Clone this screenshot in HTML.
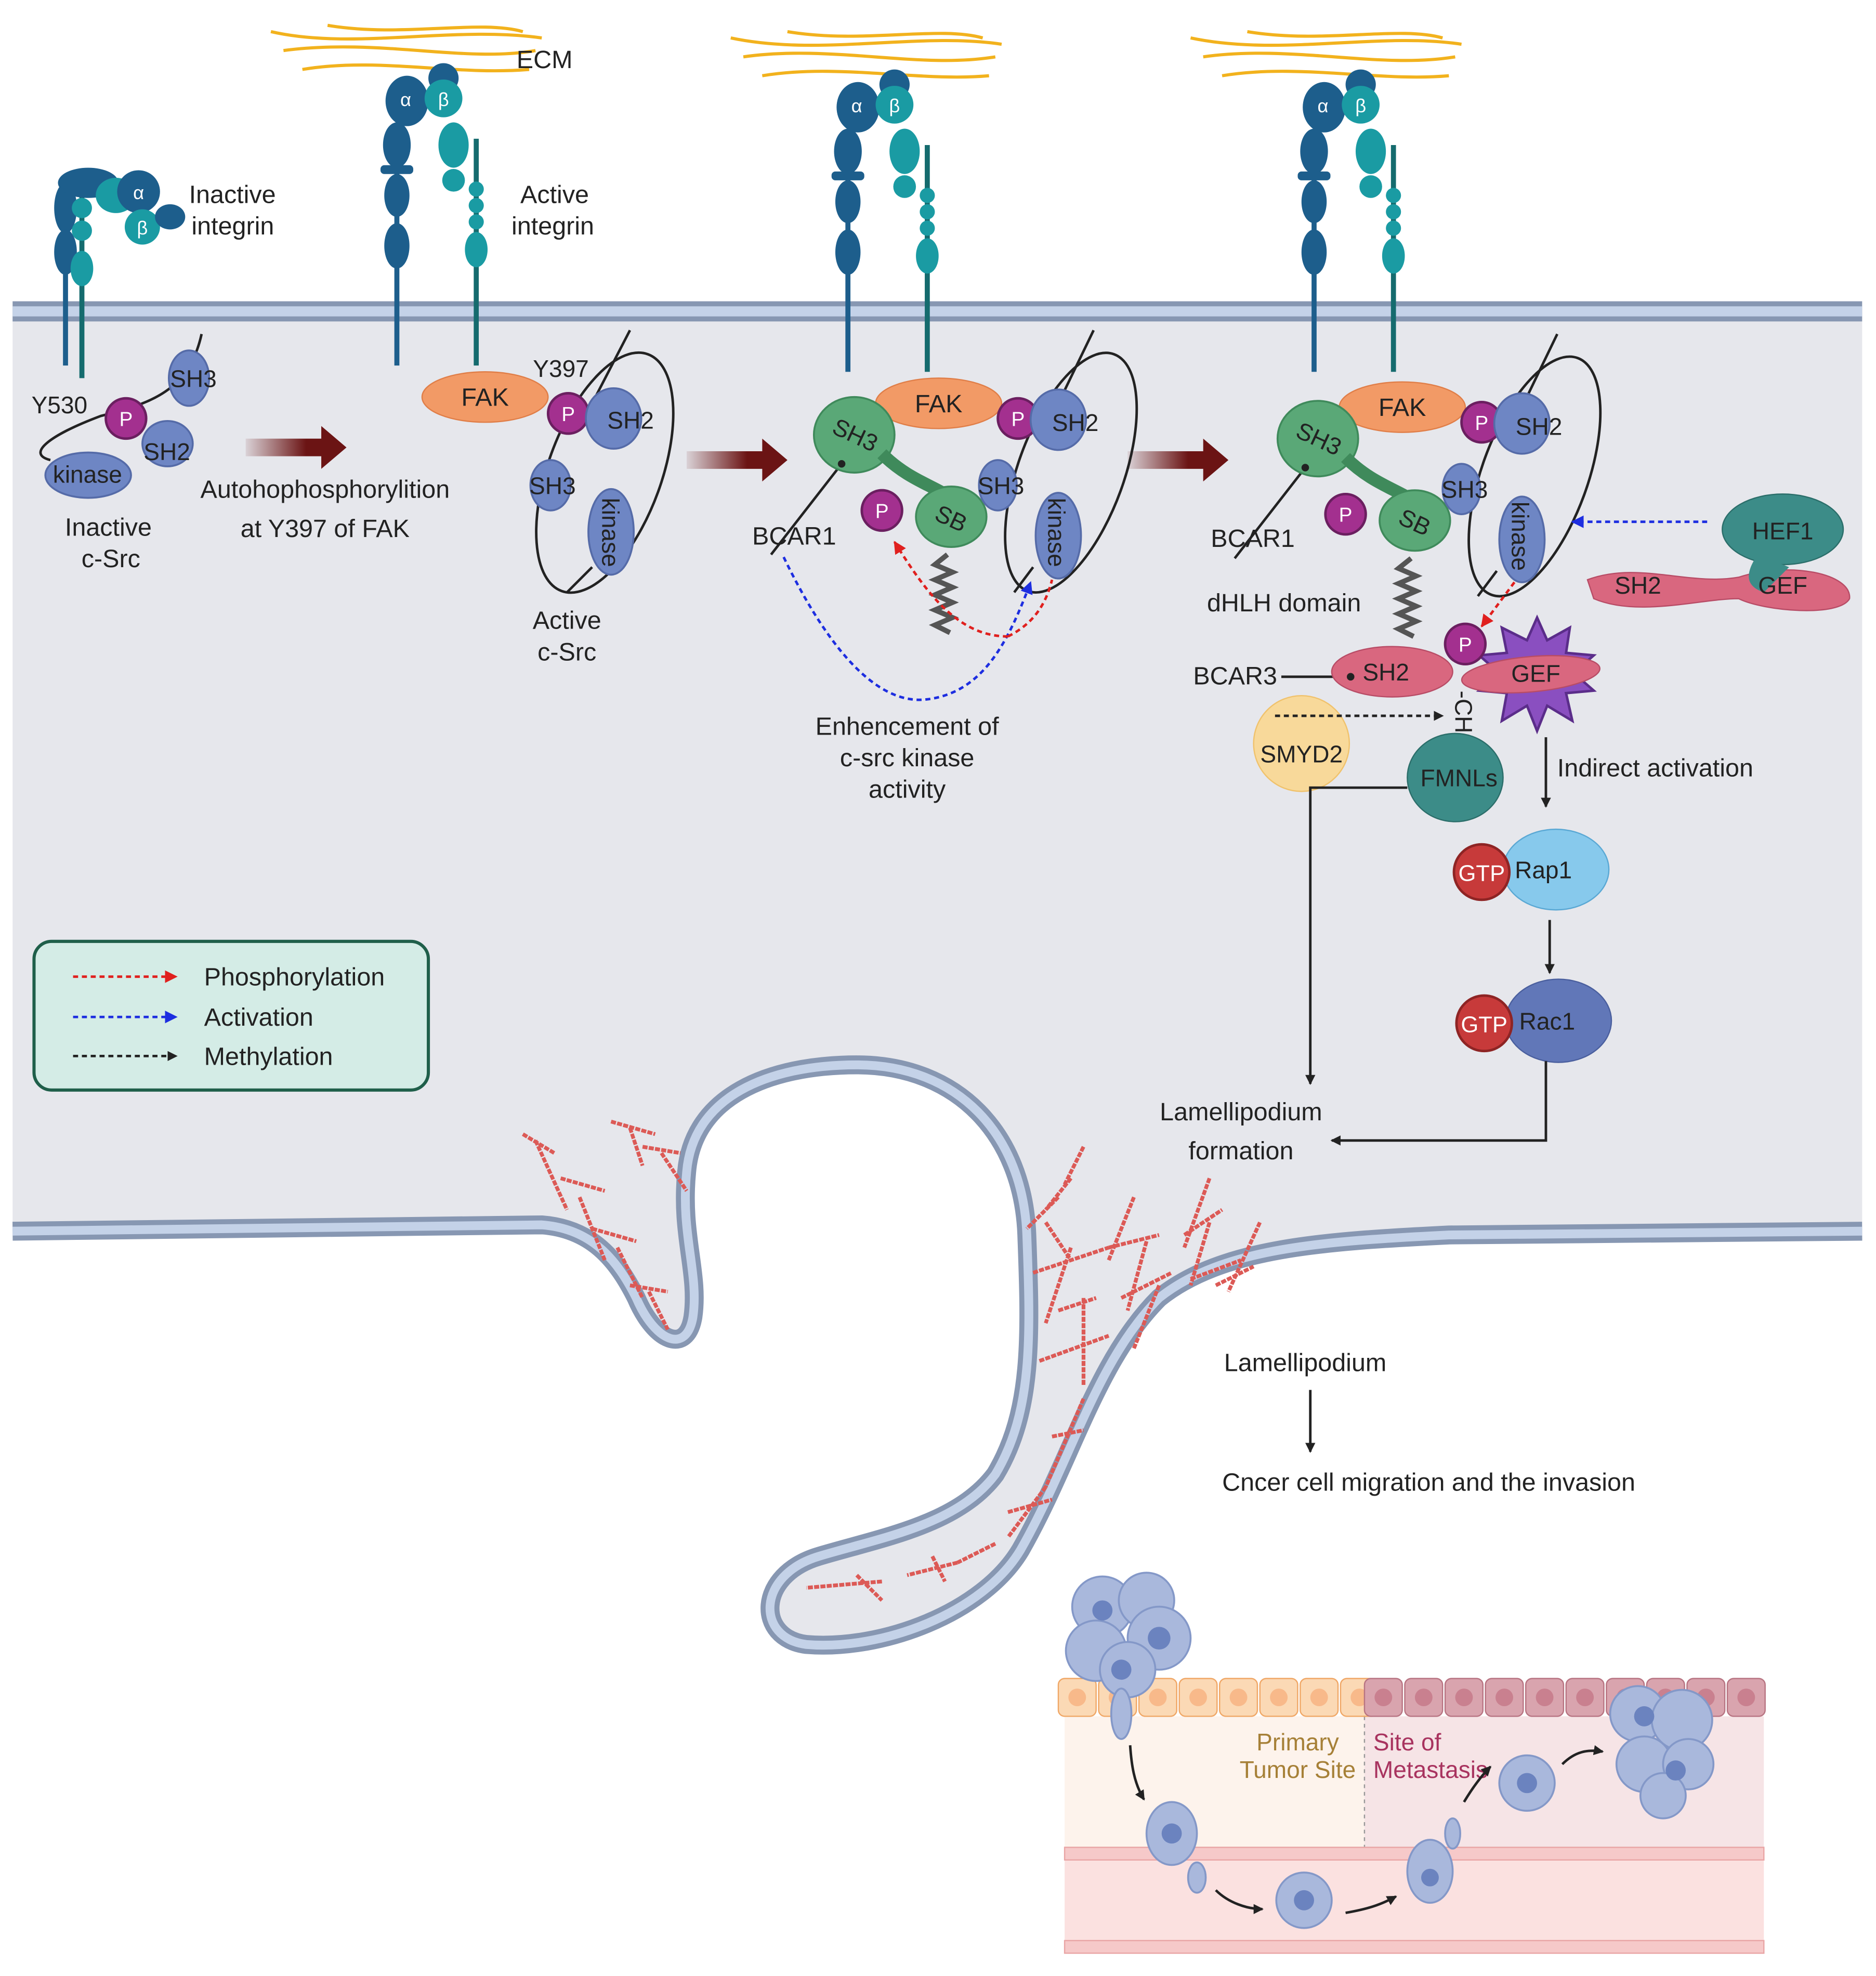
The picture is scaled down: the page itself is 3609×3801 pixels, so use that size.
<!DOCTYPE html>
<html><head><meta charset="utf-8"><style>
html,body{margin:0;padding:0;background:#fff}
svg{display:block}
text{font-family:"Liberation Sans",sans-serif;fill:#222}
</style></head><body>
<svg width="3609" height="3801" viewBox="0 0 1489 1568" xmlns="http://www.w3.org/2000/svg">
<defs>
<marker id="ak" markerWidth="8" markerHeight="8" refX="7" refY="4" orient="auto" markerUnits="userSpaceOnUse"><path d="M0,0 L8,4 L0,8z" fill="#222"/></marker>
<marker id="ar" markerWidth="10" markerHeight="10" refX="9" refY="5" orient="auto" markerUnits="userSpaceOnUse"><path d="M0,0 L10,5 L0,10z" fill="#e0201e"/></marker>
<marker id="ab" markerWidth="10" markerHeight="10" refX="9" refY="5" orient="auto" markerUnits="userSpaceOnUse"><path d="M0,0 L10,5 L0,10z" fill="#1d2ee0"/></marker>
<linearGradient id="gr" x1="0" x2="1"><stop offset="0" stop-color="#6b1414" stop-opacity="0.1"/><stop offset="0.6" stop-color="#6b1414"/></linearGradient>
</defs>

<!-- cell interior -->
<path d="M10,250 L1478,250 L1478,977 L1150,980 C1050,985 970,990 920,1030 C870,1080 850,1160 810,1230 C780,1280 700,1310 640,1305 C600,1300 600,1250 650,1235 C700,1220 760,1210 790,1170 C820,1120 818,1060 815,980 C812,900 760,845 680,845 C610,845 550,870 545,930 C540,980 555,1010 550,1045 C545,1075 520,1065 505,1030 C490,1000 470,975 430,972 L10,977 Z" fill="#e6e7ec"/>
<g fill="none" stroke-linejoin="round">
<path d="M10,977 L430,972 C470,975 490,1000 505,1030 C520,1065 545,1075 550,1045 C555,1010 540,980 545,930 C550,870 610,845 680,845 C760,845 812,900 815,980 C818,1060 820,1120 790,1170 C760,1210 700,1220 650,1235 C600,1250 600,1300 640,1305 C700,1310 780,1280 810,1230 C850,1160 870,1080 920,1030 C970,990 1050,985 1150,980 L1478,977" stroke="#8797b2" stroke-width="15"/>
<path d="M10,977 L430,972 C470,975 490,1000 505,1030 C520,1065 545,1075 550,1045 C555,1010 540,980 545,930 C550,870 610,845 680,845 C760,845 812,900 815,980 C818,1060 820,1120 790,1170 C760,1210 700,1220 650,1235 C600,1250 600,1300 640,1305 C700,1310 780,1280 810,1230 C850,1160 870,1080 920,1030 C970,990 1050,985 1150,980 L1478,977" stroke="#c4d2e8" stroke-width="7"/>
</g>
<!-- top membrane -->
<rect x="10" y="239" width="1468" height="16" fill="#8797b2"/>
<rect x="10" y="243" width="1468" height="8" fill="#c4d2e8"/>

<!-- actin -->
<g stroke="#dc5a56" stroke-width="3" fill="none" stroke-dasharray="4 1">
<path d="M415,900 L440,915 M425,905 L450,960 M445,935 L480,945 M460,950 L480,1000 M470,975 L505,985 M490,990 L510,1030 M500,1020 L530,1025 M515,1025 L530,1055 M485,890 L520,900 M500,895 L510,925 M510,910 L540,915 M525,915 L545,945"/>
<path d="M860,910 L845,940 M850,935 L830,960 M840,950 L815,975 M830,970 L850,1000 M820,1010 L880,990 M850,990 L830,1050 M840,1040 L870,1030 M860,1030 L860,1100 M825,1080 L880,1060 M900,950 L880,1000 M880,990 L920,980 M910,985 L895,1040 M890,1030 L930,1010 M920,1020 L900,1070 M960,935 L940,990 M940,980 L970,960 M960,970 L945,1020 M945,1015 L985,1000 M1000,970 L975,1025 M965,1020 L995,1005 M860,1110 L830,1180 M835,1140 L860,1135 M830,1180 L800,1220 M800,1200 L835,1190 M790,1225 L760,1240 M760,1240 L720,1250 M700,1255 L640,1260 M680,1250 L700,1270 M740,1235 L750,1255"/>
</g>

<!-- ECM fibers -->
<g fill="none" stroke="#f2b21d" stroke-width="2.5">
<path d="M215,25 C280,40 360,20 430,30 M225,40 C300,30 370,50 425,40 M240,55 C300,45 360,60 420,55 M260,20 C320,30 380,15 415,25"/>
<path d="M580,30 C650,45 730,25 795,35 M590,45 C660,35 730,55 790,45 M605,60 C665,50 730,65 785,60 M625,25 C685,35 745,20 780,30"/>
<path d="M945,30 C1015,45 1095,25 1160,35 M955,45 C1025,35 1095,55 1155,45 M970,60 C1030,50 1095,65 1150,60 M990,25 C1050,35 1110,20 1145,30"/>
</g>

<!-- Integrins -->
<g>
<!-- inactive -->
<line x1="52" y1="150" x2="52" y2="290" stroke="#1d5e8c" stroke-width="4"/>
<line x1="65" y1="150" x2="65" y2="300" stroke="#156b6e" stroke-width="4"/>
<ellipse cx="52" cy="165" rx="9" ry="20" fill="#1d5e8c"/><ellipse cx="52" cy="200" rx="9" ry="18" fill="#1d5e8c"/>
<ellipse cx="65" cy="165" rx="8" ry="8" fill="#1a9ba3"/><ellipse cx="65" cy="183" rx="8" ry="8" fill="#1a9ba3"/><ellipse cx="65" cy="213" rx="9" ry="14" fill="#1a9ba3"/>
<ellipse cx="70" cy="145" rx="24" ry="12" fill="#1d5e8c"/><ellipse cx="92" cy="155" rx="16" ry="14" fill="#1a9ba3"/>
<circle cx="110" cy="152" r="17" fill="#1d5e8c"/><text x="110" y="158" font-size="15" text-anchor="middle" style="fill:#fff">α</text>
<circle cx="113" cy="180" r="14" fill="#1a9ba3"/><text x="113" y="186" font-size="15" text-anchor="middle" style="fill:#fff">β</text>
<ellipse cx="135" cy="172" rx="12" ry="10" fill="#1d5e8c"/>
<text x="150" y="161" font-size="20">Inactive</text><text x="152" y="186" font-size="20">integrin</text>
</g>
<g id="ai">
<line x1="315" y1="110" x2="315" y2="290" stroke="#1d5e8c" stroke-width="4"/>
<line x1="378" y1="110" x2="378" y2="290" stroke="#156b6e" stroke-width="4"/>
<ellipse cx="315" cy="115" rx="11" ry="18" fill="#1d5e8c"/><rect x="302" y="131" width="26" height="7" rx="3" fill="#1d5e8c"/>
<ellipse cx="315" cy="155" rx="10" ry="17" fill="#1d5e8c"/><ellipse cx="315" cy="195" rx="10" ry="18" fill="#1d5e8c"/>
<ellipse cx="323" cy="80" rx="17" ry="20" fill="#1d5e8c"/><circle cx="352" cy="62" r="12" fill="#1d5e8c"/>
<circle cx="352" cy="78" r="15" fill="#1a9ba3"/><text x="352" y="84" font-size="15" text-anchor="middle" style="fill:#fff">β</text>
<text x="322" y="84" font-size="15" text-anchor="middle" style="fill:#fff">α</text>
<ellipse cx="360" cy="115" rx="12" ry="18" fill="#1a9ba3"/><ellipse cx="360" cy="143" rx="9" ry="9" fill="#1a9ba3"/>
<circle cx="378" cy="150" r="6" fill="#1a9ba3"/><circle cx="378" cy="163" r="6" fill="#1a9ba3"/><circle cx="378" cy="176" r="6" fill="#1a9ba3"/>
<ellipse cx="378" cy="198" rx="9" ry="14" fill="#1a9ba3"/>
</g>
<use href="#ai" transform="translate(358,5)"/>
<use href="#ai" transform="translate(728,5)"/>
<text x="410" y="54" font-size="20">ECM</text>
<text x="413" y="161" font-size="20">Active</text><text x="406" y="186" font-size="20">integrin</text>

<!-- Panel 1 c-Src -->
<g fill="none" stroke="#222" stroke-width="2">
<path d="M160,265 C150,310 120,320 80,330 C40,345 20,360 40,365"/>
</g>
<g fill="#6e86c4" stroke="#556ba8" stroke-width="1.5">
<ellipse cx="150" cy="300" rx="16" ry="22"/>
<ellipse cx="133" cy="352" rx="20" ry="18"/>
<ellipse cx="70" cy="377" rx="34" ry="18"/>
</g>
<circle cx="100" cy="332" r="16" fill="#a3308f" stroke="#6b1f60" stroke-width="2"/><text x="100" y="338" font-size="16" text-anchor="middle" style="fill:#fff">P</text>
<text x="25" y="328" font-size="19">Y530</text>
<text x="135" y="307" font-size="19">SH3</text>
<text x="114" y="365" font-size="19">SH2</text>
<text x="42" y="383" font-size="19">kinase</text>
<text x="86" y="425" font-size="20" text-anchor="middle">Inactive</text><text x="88" y="450" font-size="20" text-anchor="middle">c-Src</text>

<!-- arrows big -->
<g fill="url(#gr)">
<path d="M195,348 L255,348 L255,338 L275,355 L255,372 L255,362 L195,362Z"/>
<path d="M545,358 L605,358 L605,348 L625,365 L605,382 L605,372 L545,372Z"/>
<path d="M895,358 L955,358 L955,348 L975,365 L955,382 L955,372 L895,372Z"/>
</g>
<text x="258" y="395" font-size="20" text-anchor="middle">Autohophosphorylition</text>
<text x="258" y="426" font-size="20" text-anchor="middle">at Y397 of FAK</text>

<!-- Panel 2 -->
<g fill="none" stroke="#222" stroke-width="2">
<ellipse cx="480" cy="375" rx="45" ry="100" transform="rotate(20 480 375)"/>
<path d="M500,262 L470,320 M470,450 L450,470"/>
</g>
<ellipse cx="385" cy="315" rx="50" ry="20" fill="#f29a66" stroke="#e07e48"/>
<text x="385" y="322" font-size="20" text-anchor="middle">FAK</text>
<circle cx="451" cy="328" r="16" fill="#a3308f" stroke="#6b1f60" stroke-width="2"/><text x="451" y="334" font-size="16" text-anchor="middle" style="fill:#fff">P</text>
<text x="423" y="299" font-size="19">Y397</text>
<g fill="#6e86c4" stroke="#556ba8" stroke-width="1.5">
<ellipse cx="487" cy="332" rx="22" ry="24"/>
<ellipse cx="437" cy="385" rx="16" ry="20"/>
<ellipse cx="485" cy="422" rx="18" ry="34"/>
</g>
<text x="482" y="340" font-size="19">SH2</text>
<text x="420" y="392" font-size="19">SH3</text>
<text x="478" y="395" font-size="19" transform="rotate(90 478 395)">kinase</text>
<text x="450" y="499" font-size="20" text-anchor="middle">Active</text><text x="450" y="524" font-size="20" text-anchor="middle">c-Src</text>

<!-- Panel 3 & 4 shared complex -->
<g id="cx">
<g fill="none" stroke="#222" stroke-width="2">
<ellipse cx="850" cy="375" rx="42" ry="100" transform="rotate(20 850 375)"/>
<path d="M868,262 L840,320 M820,450 L805,470"/>
<line x1="668" y1="368" x2="612" y2="440"/>
</g>
<path d="M752,440 l-10,8 l14,6 l-14,6 l14,6 l-14,6 l14,6 l-14,6 l14,6 l-14,6 l12,6" fill="none" stroke="#555" stroke-width="4"/>
<ellipse cx="745" cy="320" rx="50" ry="20" fill="#f29a66" stroke="#e07e48"/>
<text x="745" y="327" font-size="20" text-anchor="middle">FAK</text>
<g fill="#5aa877" stroke="#3f8a5b" stroke-width="1.5">
<ellipse cx="678" cy="345" rx="32" ry="30"/>
<path d="M700,360 C720,380 740,385 755,395" stroke-width="10" fill="none"/>
<ellipse cx="755" cy="410" rx="28" ry="24"/>
</g>
<circle cx="668" cy="368" r="3" fill="#222"/>
<text x="660" y="350" font-size="19" transform="rotate(25 675 345)">SH3</text>
<text x="742" y="418" font-size="19" transform="rotate(25 755 412)">SB</text>
<circle cx="808" cy="332" r="16" fill="#a3308f" stroke="#6b1f60" stroke-width="2"/><text x="808" y="338" font-size="16" text-anchor="middle" style="fill:#fff">P</text>
<circle cx="700" cy="405" r="16" fill="#a3308f" stroke="#6b1f60" stroke-width="2"/><text x="700" y="411" font-size="16" text-anchor="middle" style="fill:#fff">P</text>
<g fill="#6e86c4" stroke="#556ba8" stroke-width="1.5">
<ellipse cx="840" cy="333" rx="22" ry="24"/>
<ellipse cx="792" cy="385" rx="15" ry="20"/>
<ellipse cx="840" cy="425" rx="18" ry="34"/>
</g>
<text x="835" y="342" font-size="19">SH2</text>
<text x="776" y="392" font-size="19">SH3</text>
<text x="832" y="395" font-size="19" transform="rotate(90 832 395)">kinase</text>
</g>
<use href="#cx" transform="translate(368,3)"/>
<text x="597" y="432" font-size="20">BCAR1</text>
<path d="M622,442 C650,500 690,560 735,555 C780,550 800,510 818,462" fill="none" stroke="#1d2ee0" stroke-width="2" stroke-dasharray="4 3" marker-end="url(#ab)"/>
<path d="M800,505 C760,505 735,470 710,430" fill="none" stroke="#e0201e" stroke-width="2" stroke-dasharray="4 3" marker-end="url(#ar)"/>
<path d="M800,505 C820,495 830,480 835,460" fill="none" stroke="#e0201e" stroke-width="2" stroke-dasharray="4 3"/>
<text x="720" y="583" font-size="20" text-anchor="middle">Enhencement of</text>
<text x="720" y="608" font-size="20" text-anchor="middle">c-src kinase</text>
<text x="720" y="633" font-size="20" text-anchor="middle">activity</text>

<!-- Panel 4 extras -->
<text x="961" y="434" font-size="20">BCAR1</text>
<text x="958" y="485" font-size="20">dHLH domain</text>
<path d="M1017,537 L1072,537" stroke="#222" stroke-width="2"/>
<text x="947" y="543" font-size="20">BCAR3</text>
<ellipse cx="1105" cy="533" rx="48" ry="20" fill="#d9677f" stroke="#b84c66"/>
<circle cx="1072" cy="537" r="3" fill="#222"/>
<text x="1100" y="540" font-size="19" text-anchor="middle">SH2</text>
<path d="M1220,490 l8,18 l18,-10 l-3,20 l22,2 l-16,14 l16,14 l-22,2 l5,22 l-20,-12 l-8,20 l-8,-20 l-20,12 l4,-22 l-22,-2 l16,-14 l-16,-14 l22,-2 l-4,-20 l20,10z" fill="#8a4fc0" stroke="#5b2d8a" stroke-width="2"/>
<ellipse cx="1215" cy="535" rx="55" ry="14" fill="#d9677f" stroke="#b84c66" transform="rotate(-5 1215 535)"/>
<text x="1219" y="541" font-size="19" text-anchor="middle">GEF</text>
<circle cx="1163" cy="511" r="16" fill="#a3308f" stroke="#6b1f60" stroke-width="2"/><text x="1163" y="517" font-size="16" text-anchor="middle" style="fill:#fff">P</text>
<text x="1155" y="548" font-size="19" transform="rotate(90 1155 548)">-CH₃</text>
<ellipse cx="1033" cy="590" rx="38" ry="38" fill="#f8d99a" stroke="#f0c26c"/>
<text x="1033" y="605" font-size="19" text-anchor="middle">SMYD2</text>
<ellipse cx="1155" cy="617" rx="38" ry="35" fill="#3c8c88" stroke="#2b6e6a"/>
<text x="1158" y="624" font-size="19" text-anchor="middle">FMNLs</text>
<path d="M1012,568 L1145,568" stroke="#222" stroke-width="2" stroke-dasharray="4 3" marker-end="url(#ak)"/>
<!-- HEF1 -->
<ellipse cx="1415" cy="420" rx="48" ry="28" fill="#3c8c88" stroke="#2b6e6a"/>
<text x="1415" y="428" font-size="19" text-anchor="middle">HEF1</text>
<path d="M1260,460 C1300,445 1340,465 1380,458 C1420,445 1470,455 1468,475 C1460,490 1400,485 1380,475 C1350,475 1300,490 1265,475z" fill="#d9677f" stroke="#b84c66"/>
<path d="M1395,440 C1385,455 1385,465 1400,470 L1420,450z" fill="#3c8c88"/>
<text x="1300" y="471" font-size="19" text-anchor="middle">SH2</text>
<text x="1415" y="471" font-size="19" text-anchor="middle">GEF</text>
<path d="M1355,414 L1248,414" stroke="#1d2ee0" stroke-width="2" stroke-dasharray="4 3" marker-end="url(#ab)"/>
<path d="M1202,462 L1176,497" stroke="#e0201e" stroke-width="2" stroke-dasharray="4 3" marker-end="url(#ar)"/>
<!-- pathway -->
<text x="1236" y="616" font-size="20">Indirect activation</text>
<path d="M1227,585 L1227,640" stroke="#222" stroke-width="2" marker-end="url(#ak)"/>
<ellipse cx="1235" cy="690" rx="42" ry="32" fill="#87c9ec" stroke="#5aa8d4"/>
<circle cx="1176" cy="692" r="22" fill="#c73a3a" stroke="#8e2424" stroke-width="2"/>
<text x="1176" y="699" font-size="18" text-anchor="middle" style="fill:#fff">GTP</text>
<text x="1225" y="697" font-size="19" text-anchor="middle">Rap1</text>
<path d="M1230,730 L1230,772" stroke="#222" stroke-width="2" marker-end="url(#ak)"/>
<ellipse cx="1237" cy="810" rx="42" ry="33" fill="#6177b8" stroke="#4a5f9e"/>
<circle cx="1178" cy="812" r="22" fill="#c73a3a" stroke="#8e2424" stroke-width="2"/>
<text x="1178" y="819" font-size="18" text-anchor="middle" style="fill:#fff">GTP</text>
<text x="1228" y="817" font-size="19" text-anchor="middle">Rac1</text>
<path d="M1117,625 L1040,625 L1040,860" fill="none" stroke="#222" stroke-width="2" marker-end="url(#ak)"/>
<path d="M1227,842 L1227,905 L1057,905" fill="none" stroke="#222" stroke-width="2" marker-end="url(#ak)"/>
<text x="985" y="889" font-size="20" text-anchor="middle">Lamellipodium</text>
<text x="985" y="920" font-size="20" text-anchor="middle">formation</text>

<!-- legend -->
<rect x="27" y="747" width="313" height="118" rx="14" fill="#d4ece6" stroke="#1f5f4a" stroke-width="2.5"/>
<path d="M58,775 L140,775" stroke="#e0201e" stroke-width="2" stroke-dasharray="4 3" marker-end="url(#ar)"/>
<path d="M58,807 L140,807" stroke="#1d2ee0" stroke-width="2" stroke-dasharray="4 3" marker-end="url(#ab)"/>
<path d="M58,838 L140,838" stroke="#222" stroke-width="2" stroke-dasharray="4 3" marker-end="url(#ak)"/>
<text x="162" y="782" font-size="20">Phosphorylation</text>
<text x="162" y="814" font-size="20">Activation</text>
<text x="162" y="845" font-size="20">Methylation</text>

<!-- bottom text -->
<text x="1036" y="1088" font-size="20" text-anchor="middle">Lamellipodium</text>
<path d="M1040,1103 L1040,1152" stroke="#222" stroke-width="2" marker-end="url(#ak)"/>
<text x="1134" y="1183" font-size="20" text-anchor="middle">Cncer cell migration and the invasion</text>

<!-- tissue -->
<rect x="845" y="1362" width="238" height="106" fill="#fdf3ec"/>
<rect x="1083" y="1362" width="317" height="106" fill="#f6e4e6"/>
<line x1="1083" y1="1362" x2="1083" y2="1468" stroke="#999" stroke-dasharray="3 3"/>
<rect x="845" y="1468" width="555" height="82" fill="#fbe1e0"/>
<g fill="#f6c9c9" stroke="#e9a5a5">
<rect x="845" y="1466" width="555" height="10"/>
<rect x="845" y="1540" width="555" height="10"/>
</g>
<g id="oc"><rect x="840" y="1332" width="30" height="30" rx="5" fill="#fbd9b5" stroke="#f0a766"/><circle cx="855" cy="1347" r="7" fill="#f8b98a"/></g>
<use href="#oc" transform="translate(32,0)"/><use href="#oc" transform="translate(64,0)"/><use href="#oc" transform="translate(96,0)"/><use href="#oc" transform="translate(128,0)"/><use href="#oc" transform="translate(160,0)"/><use href="#oc" transform="translate(192,0)"/><use href="#oc" transform="translate(224,0)"/>
<g id="pc"><rect x="1083" y="1332" width="30" height="30" rx="5" fill="#d9a4ae" stroke="#b87482"/><circle cx="1098" cy="1347" r="7" fill="#c9808f"/></g>
<use href="#pc" transform="translate(32,0)"/><use href="#pc" transform="translate(64,0)"/><use href="#pc" transform="translate(96,0)"/><use href="#pc" transform="translate(128,0)"/><use href="#pc" transform="translate(160,0)"/><use href="#pc" transform="translate(192,0)"/><use href="#pc" transform="translate(224,0)"/><use href="#pc" transform="translate(256,0)"/><use href="#pc" transform="translate(288,0)"/>
<text x="1030" y="1389" font-size="19" text-anchor="middle" style="fill:#a68037">Primary</text>
<text x="1030" y="1411" font-size="19" text-anchor="middle" style="fill:#a68037">Tumor Site</text>
<text x="1090" y="1389" font-size="19" style="fill:#a8335f">Site of</text>
<text x="1090" y="1411" font-size="19" style="fill:#a8335f">Metastasis</text>
<g fill="#a9b8dc" stroke="#8498c8" stroke-width="1.5">
<circle cx="875" cy="1275" r="24"/><circle cx="910" cy="1270" r="22"/><circle cx="920" cy="1300" r="25"/><circle cx="870" cy="1310" r="24"/><circle cx="895" cy="1325" r="22"/>
<ellipse cx="890" cy="1360" rx="8" ry="20"/>
<ellipse cx="930" cy="1455" rx="20" ry="25"/><ellipse cx="950" cy="1490" rx="7" ry="12"/>
<circle cx="1035" cy="1508" r="22"/>
<ellipse cx="1135" cy="1485" rx="18" ry="25"/><ellipse cx="1153" cy="1455" rx="6" ry="12"/>
<circle cx="1212" cy="1415" r="22"/>
<circle cx="1300" cy="1360" r="22"/><circle cx="1335" cy="1365" r="24"/><circle cx="1305" cy="1400" r="22"/><circle cx="1340" cy="1400" r="20"/><circle cx="1320" cy="1425" r="18"/>
</g>
<g fill="#6b83bf"><circle cx="875" cy="1278" r="8"/><circle cx="920" cy="1300" r="9"/><circle cx="890" cy="1325" r="8"/><circle cx="930" cy="1455" r="8"/><circle cx="1035" cy="1508" r="8"/><circle cx="1135" cy="1490" r="7"/><circle cx="1212" cy="1415" r="8"/><circle cx="1305" cy="1362" r="8"/><circle cx="1330" cy="1405" r="8"/></g>
<g fill="none" stroke="#222" stroke-width="2" marker-end="url(#ak)">
<path d="M897,1385 C898,1400 900,1415 908,1428"/>
<path d="M965,1500 C975,1510 990,1515 1002,1515"/>
<path d="M1068,1518 C1085,1515 1095,1512 1108,1505"/>
<path d="M1162,1430 C1168,1420 1175,1410 1183,1402"/>
<path d="M1240,1400 C1250,1390 1260,1388 1272,1390"/>
</g>
</svg>
</body></html>
